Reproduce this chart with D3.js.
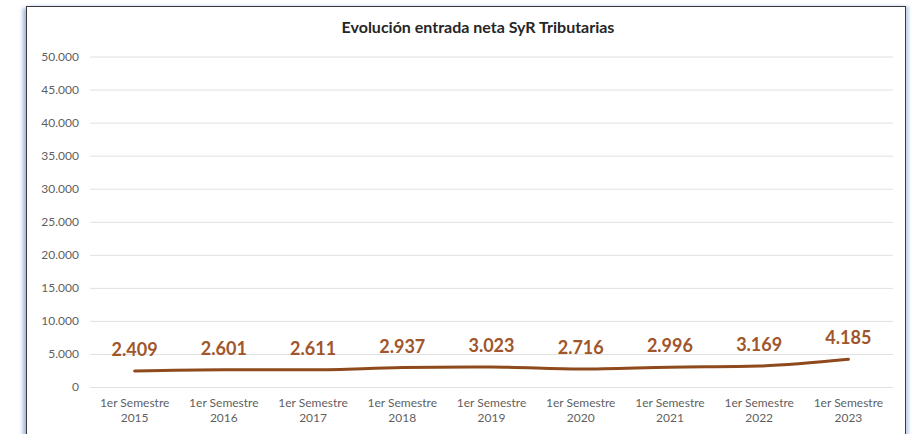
<!DOCTYPE html>
<html>
<head>
<meta charset="utf-8">
<script src="https://cdn.jsdelivr.net/npm/d3@7"></script>
<style>
    body { margin: 0; background: #ffffff; }
    #chart { position: relative; width: 914px; height: 434px; }
    #frame {
        position: absolute; left: 26px; top: 6px; width: 878px; height: 430px;
        border: 1.5px solid #3a3a3a; box-shadow: -3px 2px 4px #9fb6d8, 3px 0 3px #c8d6ea;
    }
    svg { position: absolute; left: 0; top: 0; }
</style>
</head>
<body>
<div id="chart"><div id="frame"></div></div>
<script>
const title = 'Evolución entrada neta SyR Tributarias'
const years = ['2015', '2016', '2017', '2018', '2019', '2020', '2021', '2022', '2023']
const values = [2409, 2601, 2611, 2937, 3023, 2716, 2996, 3169, 4185]
const yTicks = [0, 5000, 10000, 15000, 20000, 25000, 30000, 35000, 40000, 45000, 50000]

document.addEventListener('DOMContentLoaded', () => {
    const width = 914
    const height = 434
    const left = 90
    const right = 893
    const top = 56.5
    const bottom = 387

    const svg = d3.select('#chart')
        .append('svg')
        .attr('width', width)
        .attr('height', height)

    const fmt = d3.formatLocale({ decimal: ',', thousands: '.', grouping: [3], currency: ['', ''] }).format(',d')

    const xAxis = d3.scaleBand()
        .domain(years)
        .range([left, right])
    const yAxis = d3.scaleLinear()
        .domain([0, 50000])
        .range([bottom, top])

    // title
    svg.append('text')
        .attr('x', 478)
        .attr('y', 33)
        .attr('text-anchor', 'middle')
        .style('font-family', 'Lato, sans-serif')
        .style('font-weight', 'bold')
        .style('font-size', '16px')
        .style('fill', '#262626')
        .text(title)

    // gridlines + y labels
    const yg = svg.append('g')
        .attr('transform', `translate(${left}, 0)`)
        .call(d3.axisLeft(yAxis).tickValues(yTicks).tickFormat(fmt).tickSize(-(right - left)).tickPadding(11))
    yg.select('.domain').remove()
    yg.selectAll('.tick line').attr('stroke', '#e0e0e0').attr('stroke-width', 1)
    yg.selectAll('.tick text')
        .style('font-family', 'Lato, sans-serif')
        .style('font-size', '12px')
        .style('fill', '#5f5f5f')

    // x labels (two lines each)
    const xg = svg.append('g')
        .attr('transform', `translate(0, ${bottom})`)
        .call(d3.axisBottom(xAxis).tickSize(0).tickFormat(''))
    xg.select('.domain').remove()
    xg.selectAll('.tick').each(function (d) {
        const tick = d3.select(this)
        const lines = ['1er Semestre', d]
        lines.forEach((s, i) => {
            tick.append('text')
                .attr('x', 0)
                .attr('y', 20 + i * 14.5)
                .attr('text-anchor', 'middle')
                .style('font-family', 'Lato, sans-serif')
                .style('font-size', '12px')
                .style('fill', '#5f5f5f')
                .text(s)
        })
    })

    const cx = d => xAxis(d) + xAxis.bandwidth() / 2

    // line
    const line = d3.line()
        .x((d, i) => cx(years[i]))
        .y(d => yAxis(d))
        .curve(d3.curveMonotoneX)
    svg.append('path')
        .datum(values)
        .attr('d', line)
        .attr('fill', 'none')
        .attr('stroke', '#8e4a1c')
        .attr('stroke-width', 3)
        .attr('stroke-linecap', 'round')

    // value labels
    svg.append('g')
        .selectAll('text')
        .data(values)
        .enter()
        .append('text')
        .attr('x', (d, i) => cx(years[i]))
        .attr('y', d => yAxis(d) - 15)
        .attr('text-anchor', 'middle')
        .style('font-family', 'Lato, sans-serif')
        .style('font-weight', 'bold')
        .style('font-size', '18px')
        .style('fill', '#a0562a')
        .text(d => fmt(d))
})
</script>
</body>
</html>
